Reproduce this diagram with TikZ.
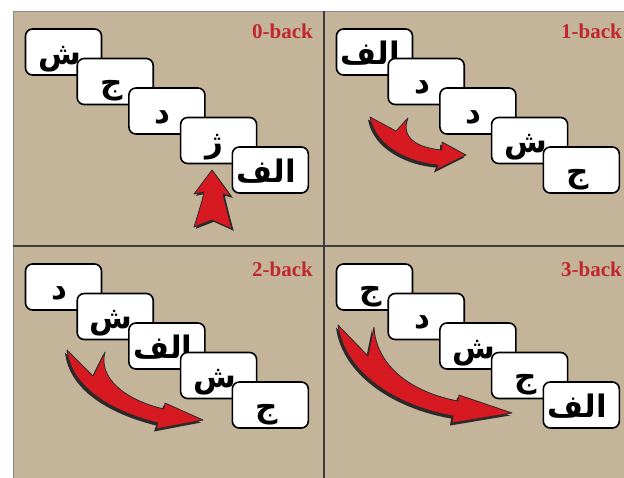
\documentclass[tikz,border=0pt]{standalone}
\usepackage{fontspec}
\setmainfont{Liberation Serif}
\newfontfamily\arabicfont[Script=Arabic]{DejaVu Sans}
\TeXXeTstate=1
\definecolor{bgtan}{HTML}{C4B49A}
\definecolor{gridc}{HTML}{3C3C3C}
\definecolor{edgec}{HTML}{8A8A8A}
\definecolor{labred}{HTML}{C0272D}
\definecolor{arrred}{HTML}{D71A21}
\definecolor{shadc}{HTML}{2A2A2A}
\newcommand\arl[1]{\smash{\raisebox{-12pt}{\kern-8pt\arabicfont\bfseries\fontsize{31}{31}\selectfont\beginR #1\endR}}}
\newcommand\cardset[8]{%
  \node[card] (#1a) at ({#2+50.5},{#3+41}) {\arl{#4}};
  \node[card] (#1b) at ({#2+102.2},{#3+70.5}) {\arl{#5}};
  \node[card] (#1c) at ({#2+153.9},{#3+100}) {\arl{#6}};
  \node[card] (#1d) at ({#2+205.6},{#3+129.5}) {\arl{#7}};
  \node[card] (#1e) at ({#2+257.3},{#3+159}) {\arl{#8}};
}
\newcommand\redarrow[2]{%
  \fill[shadc, shift={#1}] #2;
  \filldraw[fill=arrred, draw=shadc, line width=0.8pt, line join=round] #2;
}
\tikzset{
  card/.style={draw=black, fill=white, line width=1.6pt, rounded corners=7pt,
    minimum width=76pt, minimum height=46pt, inner sep=0pt},
  lab/.style={text=labred, font=\bfseries\fontsize{21}{21}\selectfont, inner sep=0pt, anchor=base east}
}
\begin{document}
\begin{tikzpicture}[x=1pt,y=-1pt]
\useasboundingbox (0,0) rectangle (624,477);
\clip (0,0) rectangle (624,477);
\fill[bgtan] (13,11) rectangle (640,490);
\draw[edgec, line width=1pt] (13,490) -- (13,11) -- (640,11);
\draw[gridc, line width=2pt] (324,11) -- (324,490);
\draw[gridc, line width=2pt] (13,246) -- (640,246);

% labels
\node[lab] (l0) at (313,38) {0-back};
\node[lab] (l1) at (622,38) {1-back};
\node[lab] (l2) at (313,276) {2-back};
\node[lab] (l3) at (622,276) {3-back};

% cards
\cardset{p}{13}{11}{ش}{ج}{د}{ژ}{الف}
\cardset{q}{324}{11}{الف}{د}{د}{ش}{ج}
\cardset{r}{13}{246}{د}{ش}{الف}{ش}{ج}
\cardset{s}{324}{246}{ج}{د}{ش}{ج}{الف}

% arrows
\redarrow{(1.8,1.8)}{(212,170) -- (231,196) -- (223,194) .. controls (226,207) and (229,219) .. (232,229) -- (212,220) -- (194,227) .. controls (198,214) and (202,202) .. (204,192) -- (194,194) -- cycle}
\redarrow{(-2,2.5)}{(370,117) -- (396,131) -- (408,118) .. controls (400,138) and (418,148) .. (442,150) -- (442,142) -- (466,155) -- (436,170) -- (438,165) .. controls (410,163) and (375,147) .. (370,117) -- cycle}
\redarrow{(-2,2.5)}{(67,350) -- (93,376) -- (105,352) .. controls (98,378) and (125,400) .. (164,409) -- (165,403) -- (203,420) -- (156,429) -- (158,423) .. controls (110,411) and (71,387) .. (67,350) -- cycle}
\redarrow{(-2,2.5)}{(338,325) -- (368,356) -- (374,327) .. controls (376,365) and (410,392) .. (458,401) -- (459,395) -- (512,413) -- (452,423) -- (453,416) .. controls (395,406) and (344,372) .. (338,325) -- cycle}
\end{tikzpicture}
\end{document}
